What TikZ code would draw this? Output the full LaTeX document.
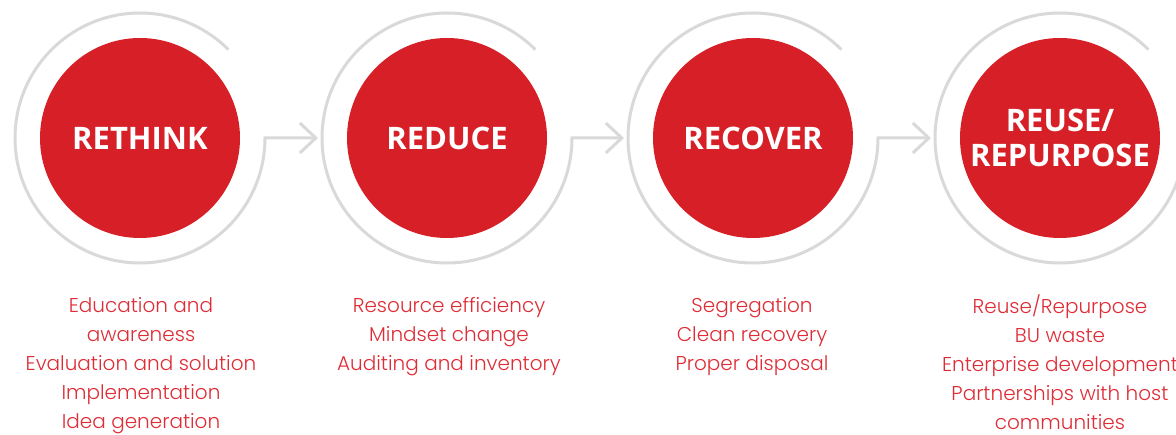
\documentclass[tikz,border=0pt]{standalone}
\usepackage{fontspec}
\setmainfont{Open Sans}
\newfontfamily\descfont{Poppins Light}
\usetikzlibrary{arrows.meta,calc}

\definecolor{stagered}{RGB}{214,31,39}
\definecolor{ringgray}{RGB}{217,217,217}
\definecolor{descred}{RGB}{222,45,55}

\tikzset{
    stage/.style={circle, fill=stagered, minimum size=200pt, inner sep=0pt,
        text=white, align=center, font=\fontsize{31}{35}\selectfont\bfseries},
    ring/.style={ringgray, line width=3pt},
    desc/.style={text=descred, align=center, anchor=north, inner sep=0pt,
        font=\descfont\fontsize{20}{29}\selectfont},
}

\begin{document}
\begin{tikzpicture}[x=1pt, y=1pt]
    \useasboundingbox (0,0) rectangle (1176,434);

    % los cuatro pasos
    \node[stage] (rethink) at (140,296) {RETHINK};
    \node[stage] (reduce)  at (447,296) {REDUCE};
    \node[stage] (recover) at (753,296) {RECOVER};
    \node[stage] (reuse)   at (1060,296) {REUSE/\\REPURPOSE};

    % anillos grises con flecha al siguiente paso
    \draw[ring, -{Straight Barb[length=16pt, width=30pt]}]
        ($(rethink)+(45:125)$) arc[start angle=45, end angle=360, radius=125]
        -- ($(reduce)+(-129,0)$);
    \draw[ring, -{Straight Barb[length=16pt, width=30pt]}]
        ($(reduce)+(45:125)$) arc[start angle=45, end angle=360, radius=125]
        -- ($(recover)+(-129,0)$);
    \draw[ring, -{Straight Barb[length=16pt, width=30pt]}]
        ($(recover)+(45:125)$) arc[start angle=45, end angle=360, radius=125]
        -- ($(reuse)+(-129,0)$);
    \draw[ring]
        ($(reuse)+(45:125)$) arc[start angle=45, end angle=360, radius=125];

    % textos debajo
    \node[desc] (rethinktxt) at (141,137) {Education and\\awareness\\Evaluation and solution\\Implementation\\Idea generation};
    \node[desc] (reducetxt)  at (449,137) {Resource efficiency\\Mindset change\\Auditing and inventory};
    \node[desc] (recovertxt) at (752,137) {Segregation\\Clean recovery\\Proper disposal};
    \node[desc] (reusetxt)   at (1060,139.5) {Reuse/Repurpose\\BU waste\\Enterprise development\\Partnerships with host\\communities};
\end{tikzpicture}
\end{document}
